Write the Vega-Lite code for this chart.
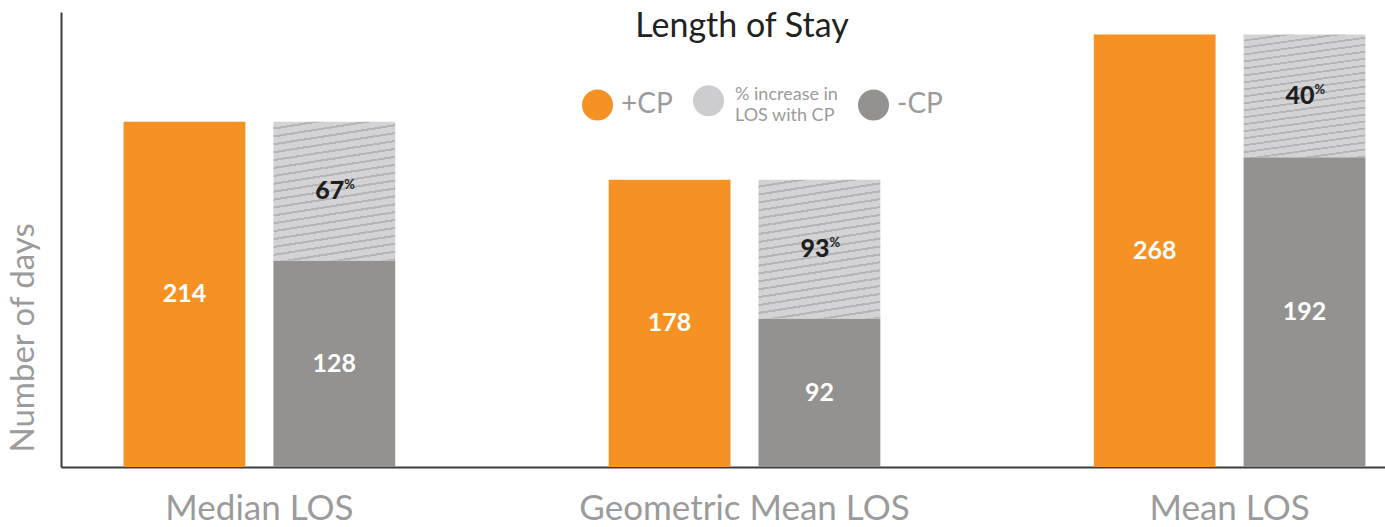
{
  "$schema": "https://vega.github.io/schema/vega-lite/v6.json",
  "autosize": {"type": "none"},
  "padding": {"left": 61, "top": 12, "right": 0, "bottom": 60},
  "width": 1324,
  "height": 455,
  "background": "white",
  "title": {"text": "Length of Stay", "font": "Lato", "fontSize": 34, "fontWeight": "normal", "color": "#222222", "anchor": "middle", "frame": "group", "baseline": "alphabetic", "offset": -23, "dx": 19, "dy": 36},
  "config": {"view": {"stroke": null}, "font": "Lato"},
  "data": {"values": [
    {"measure": "Median LOS", "bar": "+CP", "series": "+CP", "y0": 0, "y1": 214, "label": "214"},
    {"measure": "Median LOS", "bar": "-CP", "series": "-CP", "y0": 0, "y1": 128, "label": "128"},
    {"measure": "Median LOS", "bar": "-CP", "series": "% increase in LOS with CP", "y0": 128, "y1": 214, "label": "67"},
    {"measure": "Geometric Mean LOS", "bar": "+CP", "series": "+CP", "y0": 0, "y1": 178, "label": "178"},
    {"measure": "Geometric Mean LOS", "bar": "-CP", "series": "-CP", "y0": 0, "y1": 92, "label": "92"},
    {"measure": "Geometric Mean LOS", "bar": "-CP", "series": "% increase in LOS with CP", "y0": 92, "y1": 178, "label": "93"},
    {"measure": "Mean LOS", "bar": "+CP", "series": "+CP", "y0": 0, "y1": 268, "label": "268"},
    {"measure": "Mean LOS", "bar": "-CP", "series": "-CP", "y0": 0, "y1": 192, "label": "192"},
    {"measure": "Mean LOS", "bar": "-CP", "series": "% increase in LOS with CP", "y0": 192, "y1": 268, "label": "40"}
  ]},
  "encoding": {
    "x": {"field": "measure", "type": "nominal", "sort": ["Median LOS", "Geometric Mean LOS", "Mean LOS"],
      "scale": {"range": [0, 1367], "paddingInner": 0.44, "paddingOuter": 0.129},
      "axis": {"title": null, "labelAngle": 0, "labelFont": "Lato", "labelFontSize": 35, "labelColor": "#9b9b9b", "labelPadding": 24, "labelLimit": 0, "ticks": false, "domainColor": "#3c3c3c", "domainWidth": 2, "labelOverlap": false}},
    "xOffset": {"field": "bar", "type": "nominal", "sort": ["+CP", "-CP"], "scale": {"paddingInner": 0.187, "paddingOuter": 0}}
  },
  "layer": [
    {
      "transform": [{"filter": "datum.series !== '% increase in LOS with CP'"}],
      "mark": {"type": "bar", "strokeWidth": 0},
      "encoding": {
        "y": {"field": "y1", "type": "quantitative", "scale": {"domain": [0, 282], "nice": false}, "axis": {"title": "Number of days", "labels": false, "ticks": false, "grid": false, "domainColor": "#3c3c3c", "domainWidth": 2, "titleFont": "Lato", "titleFontSize": 33, "titleFontWeight": "normal", "titleColor": "#9b9b9b", "titleY": 440, "titleAlign": "left", "titlePadding": 21}},
        "y2": {"field": "y0"},
        "color": {"field": "series", "type": "nominal",
          "scale": {"domain": ["+CP", "% increase in LOS with CP", "-CP"], "range": ["#F59223", "#cdcdcf", "#939290"]},
          "legend": {"title": null, "orient": "none", "legendX": 521, "legendY": 73, "direction": "horizontal", "symbolType": "circle", "symbolSize": 961, "symbolStrokeWidth": 0, "symbolOpacity": 1, "labelFont": "Lato", "labelFontSize": 28, "labelColor": "#9b9b9b", "labelOffset": 8, "columnPadding": 20, "padding": 0, "labelLimit": 0,
            "labelExpr": "datum.value === '% increase in LOS with CP' ? ['% increase in', 'LOS with CP'] : datum.label",
            "encode": {
              "labels": {"update": {"fontSize": {"signal": "datum.value === '% increase in LOS with CP' ? 18 : 28"}, "lineHeight": {"value": 21}, "dy": {"signal": "datum.value === '% increase in LOS with CP' ? -6 : 0"}, "dx": {"signal": "datum.value === '% increase in LOS with CP' ? 3 : 0"}}}
            }
          }
        }
      }
    },
    {
      "transform": [{"filter": "datum.series === '% increase in LOS with CP'"}],
      "mark": {"type": "bar", "strokeWidth": 0, "fill": {"gradient": "linear", "x1": 0, "y1": 0, "x2": 0.154, "y2": 1.117, "stops": [
        {"offset": 0, "color": "#d3d3d5"}, {"offset": 0.0365, "color": "#d3d3d5"}, {"offset": 0.0365, "color": "#b5b5b7"}, {"offset": 0.05, "color": "#b5b5b7"},
        {"offset": 0.05, "color": "#d3d3d5"}, {"offset": 0.0865, "color": "#d3d3d5"}, {"offset": 0.0865, "color": "#b5b5b7"}, {"offset": 0.1, "color": "#b5b5b7"},
        {"offset": 0.1, "color": "#d3d3d5"}, {"offset": 0.1365, "color": "#d3d3d5"}, {"offset": 0.1365, "color": "#b5b5b7"}, {"offset": 0.15, "color": "#b5b5b7"},
        {"offset": 0.15, "color": "#d3d3d5"}, {"offset": 0.1865, "color": "#d3d3d5"}, {"offset": 0.1865, "color": "#b5b5b7"}, {"offset": 0.2, "color": "#b5b5b7"},
        {"offset": 0.2, "color": "#d3d3d5"}, {"offset": 0.2365, "color": "#d3d3d5"}, {"offset": 0.2365, "color": "#b5b5b7"}, {"offset": 0.25, "color": "#b5b5b7"},
        {"offset": 0.25, "color": "#d3d3d5"}, {"offset": 0.2865, "color": "#d3d3d5"}, {"offset": 0.2865, "color": "#b5b5b7"}, {"offset": 0.3, "color": "#b5b5b7"},
        {"offset": 0.3, "color": "#d3d3d5"}, {"offset": 0.3365, "color": "#d3d3d5"}, {"offset": 0.3365, "color": "#b5b5b7"}, {"offset": 0.35, "color": "#b5b5b7"},
        {"offset": 0.35, "color": "#d3d3d5"}, {"offset": 0.3865, "color": "#d3d3d5"}, {"offset": 0.3865, "color": "#b5b5b7"}, {"offset": 0.4, "color": "#b5b5b7"},
        {"offset": 0.4, "color": "#d3d3d5"}, {"offset": 0.4365, "color": "#d3d3d5"}, {"offset": 0.4365, "color": "#b5b5b7"}, {"offset": 0.45, "color": "#b5b5b7"},
        {"offset": 0.45, "color": "#d3d3d5"}, {"offset": 0.4865, "color": "#d3d3d5"}, {"offset": 0.4865, "color": "#b5b5b7"}, {"offset": 0.5, "color": "#b5b5b7"},
        {"offset": 0.5, "color": "#d3d3d5"}, {"offset": 0.5365, "color": "#d3d3d5"}, {"offset": 0.5365, "color": "#b5b5b7"}, {"offset": 0.55, "color": "#b5b5b7"},
        {"offset": 0.55, "color": "#d3d3d5"}, {"offset": 0.5865, "color": "#d3d3d5"}, {"offset": 0.5865, "color": "#b5b5b7"}, {"offset": 0.6, "color": "#b5b5b7"},
        {"offset": 0.6, "color": "#d3d3d5"}, {"offset": 0.6365, "color": "#d3d3d5"}, {"offset": 0.6365, "color": "#b5b5b7"}, {"offset": 0.65, "color": "#b5b5b7"},
        {"offset": 0.65, "color": "#d3d3d5"}, {"offset": 0.6865, "color": "#d3d3d5"}, {"offset": 0.6865, "color": "#b5b5b7"}, {"offset": 0.7, "color": "#b5b5b7"},
        {"offset": 0.7, "color": "#d3d3d5"}, {"offset": 0.7365, "color": "#d3d3d5"}, {"offset": 0.7365, "color": "#b5b5b7"}, {"offset": 0.75, "color": "#b5b5b7"},
        {"offset": 0.75, "color": "#d3d3d5"}, {"offset": 0.7865, "color": "#d3d3d5"}, {"offset": 0.7865, "color": "#b5b5b7"}, {"offset": 0.8, "color": "#b5b5b7"},
        {"offset": 0.8, "color": "#d3d3d5"}, {"offset": 0.8365, "color": "#d3d3d5"}, {"offset": 0.8365, "color": "#b5b5b7"}, {"offset": 0.85, "color": "#b5b5b7"},
        {"offset": 0.85, "color": "#d3d3d5"}, {"offset": 0.8865, "color": "#d3d3d5"}, {"offset": 0.8865, "color": "#b5b5b7"}, {"offset": 0.9, "color": "#b5b5b7"},
        {"offset": 0.9, "color": "#d3d3d5"}, {"offset": 0.9365, "color": "#d3d3d5"}, {"offset": 0.9365, "color": "#b5b5b7"}, {"offset": 0.95, "color": "#b5b5b7"},
        {"offset": 0.95, "color": "#d3d3d5"}, {"offset": 0.9865, "color": "#d3d3d5"}, {"offset": 0.9865, "color": "#b5b5b7"}, {"offset": 1, "color": "#b5b5b7"}
      ]}},
      "encoding": {
        "y": {"field": "y1", "type": "quantitative", "scale": {"domain": [0, 282], "nice": false}, "axis": {"title": "Number of days", "labels": false, "ticks": false, "grid": false, "domainColor": "#3c3c3c", "domainWidth": 2, "titleFont": "Lato", "titleFontSize": 33, "titleFontWeight": "normal", "titleColor": "#9b9b9b", "titleY": 440, "titleAlign": "left", "titlePadding": 21}},
        "y2": {"field": "y0"}
      }
    },
    {
      "transform": [{"filter": "datum.series !== '% increase in LOS with CP'"}, {"calculate": "(datum.y0 + datum.y1) / 2", "as": "mid"}],
      "mark": {"type": "text", "font": "Lato", "fontSize": 25, "fontWeight": "bold", "color": "#ffffff", "baseline": "middle", "align": "center"},
      "encoding": {
        "y": {"field": "mid", "type": "quantitative", "scale": {"domain": [0, 282], "nice": false}, "axis": {"title": "Number of days", "labels": false, "ticks": false, "grid": false, "domainColor": "#3c3c3c", "domainWidth": 2, "titleFont": "Lato", "titleFontSize": 33, "titleFontWeight": "normal", "titleColor": "#9b9b9b", "titleY": 440, "titleAlign": "left", "titlePadding": 21}},
        "text": {"field": "label"}
      }
    },
    {
      "transform": [{"filter": "datum.series === '% increase in LOS with CP'"}, {"calculate": "(datum.y0 + datum.y1) / 2", "as": "mid"}],
      "mark": {"type": "text", "font": "Lato", "fontSize": 25, "fontWeight": 900, "color": "#1e1e1e", "baseline": "middle", "align": "right", "dx": 10},
      "encoding": {
        "y": {"field": "mid", "type": "quantitative", "scale": {"domain": [0, 282], "nice": false}, "axis": {"title": "Number of days", "labels": false, "ticks": false, "grid": false, "domainColor": "#3c3c3c", "domainWidth": 2, "titleFont": "Lato", "titleFontSize": 33, "titleFontWeight": "normal", "titleColor": "#9b9b9b", "titleY": 440, "titleAlign": "left", "titlePadding": 21}},
        "text": {"field": "label"}
      }
    },
    {
      "transform": [{"filter": "datum.series === '% increase in LOS with CP'"}, {"calculate": "(datum.y0 + datum.y1) / 2", "as": "mid"}],
      "mark": {"type": "text", "text": "%", "font": "Lato", "fontSize": 13, "fontWeight": "bold", "color": "#1e1e1e", "baseline": "middle", "align": "left", "dx": 10, "dy": -6},
      "encoding": {
        "y": {"field": "mid", "type": "quantitative", "scale": {"domain": [0, 282], "nice": false}, "axis": {"title": "Number of days", "labels": false, "ticks": false, "grid": false, "domainColor": "#3c3c3c", "domainWidth": 2, "titleFont": "Lato", "titleFontSize": 33, "titleFontWeight": "normal", "titleColor": "#9b9b9b", "titleY": 440, "titleAlign": "left", "titlePadding": 21}}
      }
    }
  ]
}
